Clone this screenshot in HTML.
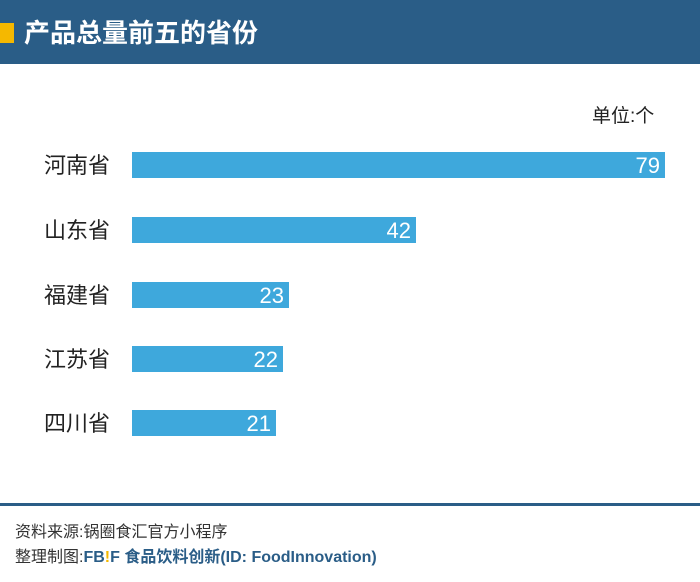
<!DOCTYPE html>
<html><head><meta charset="utf-8"><style>
body{margin:0;width:700px;height:582px;background:#fff;position:relative;overflow:hidden;font-family:"Liberation Sans","Noto Sans CJK SC",sans-serif}
.hdr{position:absolute;left:0;top:0;width:700px;height:64px;background:#2a5d87}
.hdr .sq{position:absolute;left:0;top:23px;width:14px;height:20px;background:#f5b800}
.hdr .t{position:absolute;left:24px;top:13px;font-size:26px;font-weight:bold;color:#fff}
.unit{position:absolute;left:592px;top:101px;font-size:19px;color:#222}
.lab{position:absolute;left:44px;font-size:22px;color:#222}
.bar{position:absolute;left:132px;height:26px;background:#3ea8dc;color:#fff;font-size:22px;text-align:right;line-height:27px;box-sizing:border-box;padding-right:5px}
.line{position:absolute;left:0;top:503px;width:700px;height:3px;background:#2a5d87}
.src{position:absolute;left:15px;font-size:16px;color:#333}
</style></head><body>
<div class="hdr"><div class="sq"></div><div class="t">产品总量前五的省份</div></div>
<div class="unit">单位:个</div>
<div class="lab" style="top:148px">河南省</div><div class="bar" style="top:152px;width:533px">79</div>
<div class="lab" style="top:213px">山东省</div><div class="bar" style="top:217px;width:284px">42</div>
<div class="lab" style="top:278px">福建省</div><div class="bar" style="top:282px;width:157px">23</div>
<div class="lab" style="top:342px">江苏省</div><div class="bar" style="top:346px;width:151px">22</div>
<div class="lab" style="top:406px">四川省</div><div class="bar" style="top:410px;width:144px">21</div>
<div class="line"></div>
<div class="src" style="top:518px">资料来源:锅圈食汇官方小程序</div>
<div class="src" style="top:543px">整理制图:<b style="color:#2a5d87">FB<span style="color:#f5b800">!</span>F</b> <span style="color:#2a5d87;font-weight:bold">食品饮料创新(ID: FoodInnovation)</span></div>
</body></html>
